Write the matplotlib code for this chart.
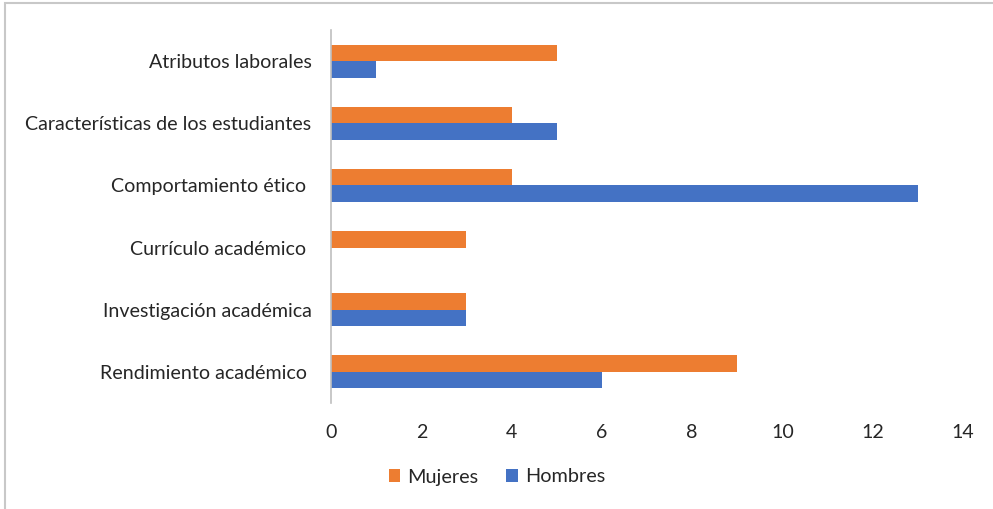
import matplotlib
matplotlib.use("Agg")
import matplotlib.pyplot as plt
import numpy as np
from matplotlib.patches import Rectangle

# ── data ──────────────────────────────────────────────────────────────────────
categories = [
    "Atributos laborales",
    "Características de los estudiantes",
    "Comportamiento ético ",
    "Currículo académico ",
    "Investigación académica",
    "Rendimiento académico ",
]
mujeres = [5, 4, 4, 3, 3, 9]
hombres = [1, 5, 13, 0, 3, 6]
xticks = [0, 2, 4, 6, 8, 10, 12, 14]

ORANGE = "#ED7D31"
BLUE = "#4472C4"
TEXT = "#262626"

plt.rcParams["font.family"] = ["Lato", "DejaVu Sans"]

fig = plt.figure(figsize=(9.93, 5.09), dpi=100)
ax = fig.add_axes([331 / 993, 1 - 403 / 509, 632 / 993, 373 / 509])

# outer chart frame (only top/left visible in the crop)
fig.patches.append(Rectangle((5 / 993, -0.1), 1.2, 1 - 3 / 509 + 0.1,
                             transform=fig.transFigure, fill=False,
                             edgecolor="#C8C8C8", linewidth=1.5))

n = len(categories)
y = np.arange(n)[::-1]
h = 0.265
ax.barh(y + h / 2, mujeres, height=h, color=ORANGE, label="Mujeres")
ax.barh(y - h / 2, hombres, height=h, color=BLUE, label="Hombres")

ax.set_ylim(-0.5, n - 0.5)
ax.set_xlim(0, 14)
ax.set_yticks(y)
ax.set_yticklabels(categories, fontsize=14.1, color=TEXT)
ax.set_xticks(xticks)
ax.set_xticklabels([str(t) for t in xticks], fontsize=14.1, color=TEXT)
ax.tick_params(axis="y", length=0, pad=14)
ax.tick_params(axis="x", length=0, pad=15)

for s in ("top", "right", "bottom"):
    ax.spines[s].set_visible(False)
ax.spines["left"].set_color("#BFBFBF")
ax.spines["left"].set_linewidth(1.2)

leg = fig.legend(loc="center", bbox_to_anchor=(497 / 993, 1 - 477 / 509),
                 ncol=2, frameon=False, fontsize=14.3, handlelength=0.6,
                 handleheight=0.6, handletextpad=0.35, columnspacing=1.4)
for t in leg.get_texts():
    t.set_color(TEXT)

fig.savefig("out.png", dpi=100)
